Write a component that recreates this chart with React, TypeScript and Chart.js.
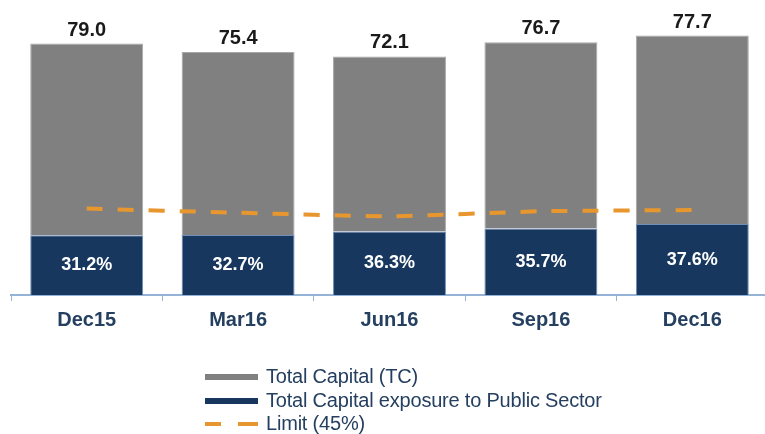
import React, { useEffect, useRef } from "react";
import { Chart, registerables } from "chart.js";

Chart.register(...registerables);

const categories = ["Dec15", "Mar16", "Jun16", "Sep16", "Dec16"];
const totalCapital = [79.0, 75.4, 72.1, 76.7, 77.7];
const publicExposure = [24.6, 24.7, 26.2, 27.4, 29.2];
const exposurePct = [31.2, 32.7, 36.3, 35.7, 37.6];
const limitValues = [35.6, 33.9, 32.4, 34.5, 35.0];

const FONT = "'Liberation Sans', Arial, sans-serif";
const GRAY = "#808080";
const NAVY = "#17375E";
const ORANGE = "#E8962E";
const TEXT_NAVY = "#243F60";

const labelPlugin = {
  id: "labelPlugin",
  afterDatasetsDraw(chart: any) {
    const ctx = chart.ctx;
    const navyMeta = chart.getDatasetMeta(1);
    const grayMeta = chart.getDatasetMeta(2);
    ctx.save();
    ctx.textAlign = "center";
    navyMeta.data.forEach((bar: any, i: number) => {
      const props = bar.getProps(["x", "y", "base"], true);
      ctx.fillStyle = "#FFFFFF";
      ctx.font = `bold 18px ${FONT}`;
      ctx.textBaseline = "middle";
      ctx.fillText(exposurePct[i].toFixed(1) + "%", props.x, (props.y + props.base) / 2);
    });
    grayMeta.data.forEach((bar: any, i: number) => {
      const props = bar.getProps(["x", "y"], true);
      ctx.fillStyle = "#1A1A1A";
      ctx.font = `bold 20px ${FONT}`;
      ctx.textBaseline = "alphabetic";
      ctx.fillText(totalCapital[i].toFixed(1), props.x, props.y - 8);
    });
    ctx.restore();
  },
};

export default function App() {
  const ref = useRef<HTMLCanvasElement>(null);

  useEffect(() => {
    if (!ref.current) return;
    const chart = new Chart(ref.current, {
      type: "bar",
      data: {
        labels: categories,
        datasets: [
          {
            type: "line",
            label: "Limit (45%)",
            data: limitValues,
            borderColor: ORANGE,
            borderWidth: 4,
            borderDash: [16, 15],
            pointRadius: 0,
            tension: 0.15,
            fill: false,
            stack: "limit",
          } as any,
          {
            type: "bar",
            label: "Total Capital exposure to Public Sector",
            data: publicExposure,
            backgroundColor: NAVY,
            borderColor: "#6F8FBA",
            borderWidth: 1,
            barPercentage: 0.746,
            categoryPercentage: 1,
            stack: "bars",
          },
          {
            type: "bar",
            label: "Total Capital (TC)",
            data: totalCapital,
            backgroundColor: GRAY,
            borderColor: "#A8A8A8",
            borderWidth: 1,
            barPercentage: 0.746,
            categoryPercentage: 1,
            stack: "bars",
          },
        ],
      },
      options: {
        responsive: true,
        maintainAspectRatio: false,
        animation: false,
        layout: { padding: { left: 11, right: 4, top: 28, bottom: 95 } },
        plugins: {
          legend: { display: false },
          tooltip: { enabled: false },
        },
        scales: {
          x: {
            type: "category",
            offset: true,
            stacked: true,
            grid: {
              display: true,
              drawOnChartArea: false,
              drawTicks: true,
              tickLength: 6,
              color: "#95B3D7",
              offset: true,
            },
            border: { display: true, color: "#95B3D7", width: 2 },
            ticks: {
              color: TEXT_NAVY,
              font: { family: FONT, size: 20, weight: "bold" },
              padding: 7,
            },
          },
          y: {
            display: false,
            stacked: true,
            min: 0,
            max: 110,
          },
        },
      },
      plugins: [labelPlugin],
    });
    return () => chart.destroy();
  }, []);

  const rowStyle: React.CSSProperties = {
    position: "absolute",
    left: 205,
    display: "flex",
    alignItems: "center",
    height: 23,
    fontFamily: FONT,
    fontSize: 20,
    color: TEXT_NAVY,
    whiteSpace: "nowrap",
    letterSpacing: "-0.2px",
  };
  const swatch = (bg: string): React.CSSProperties => ({
    width: 53,
    height: 6,
    background: bg,
    marginRight: 8,
  });

  return (
    <div style={{ position: "fixed", left: 0, top: 0, width: 765, height: 434, overflow: "hidden", background: "#fff" }}>
      <div style={{ position: "relative", width: 772, height: 434 }}>
        <canvas ref={ref} />
        <div style={{ ...rowStyle, top: 365 }}>
          <div style={swatch(GRAY)} />
          <span>Total Capital (TC)</span>
        </div>
        <div style={{ ...rowStyle, top: 389 }}>
          <div style={swatch(NAVY)} />
          <span>Total Capital exposure to Public Sector</span>
        </div>
        <div style={{ ...rowStyle, top: 412 }}>
          <div style={{ width: 53, height: 4, marginRight: 8, display: "flex", justifyContent: "space-between" }}>
            <div style={{ width: 16, height: 4, background: ORANGE }} />
            <div style={{ width: 20, height: 4, background: ORANGE }} />
          </div>
          <span>Limit (45%)</span>
        </div>
      </div>
    </div>
  );
}
